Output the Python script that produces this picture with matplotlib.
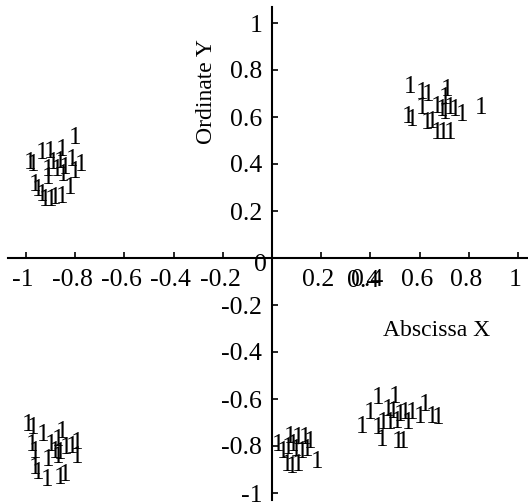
import matplotlib
matplotlib.use("Agg")
import matplotlib.pyplot as plt
import matplotlib.transforms as mtransforms

plt.rcParams["font.family"] = ["Liberation Serif", "DejaVu Serif"]
plt.rcParams["axes.unicode_minus"] = False

# point clusters, each point is drawn as the glyph "1"
c1_x = [-0.801, -0.936, -0.902, -0.855, -0.984, -0.972, -0.890, -0.862, -0.814, -0.774,
        -0.911, -0.875, -0.841, -0.801, -0.850, -0.963, -0.951, -0.911, -0.821, -0.923,
        -0.896, -0.882, -0.855, -0.936]
c1_y = [0.511, 0.447, 0.451, 0.460, 0.404, 0.396, 0.404, 0.409, 0.417, 0.396,
        0.374, 0.374, 0.383, 0.366, 0.353, 0.311, 0.289, 0.340, 0.298, 0.247,
        0.247, 0.255, 0.260, 0.268]
c2_x = [0.561, 0.609, 0.634, 0.710, 0.703, 0.852, 0.609, 0.670, 0.690, 0.724,
        0.744, 0.771, 0.553, 0.568, 0.629, 0.649, 0.670, 0.695, 0.724, 0.703]
c2_y = [0.729, 0.702, 0.694, 0.715, 0.681, 0.638, 0.638, 0.644, 0.630, 0.638,
        0.630, 0.609, 0.601, 0.587, 0.574, 0.580, 0.532, 0.532, 0.532, 0.617]
c3_x = [-0.991, -0.972, -0.931, -0.855, -0.870, -0.977, -0.963, -0.896, -0.882, -0.862,
        -0.835, -0.814, -0.794, -0.794, -0.911, -0.963, -0.951, -0.916, -0.862, -0.841,
        -0.870]
c3_y = [-0.711, -0.723, -0.753, -0.739, -0.774, -0.796, -0.824, -0.796, -0.824, -0.830,
        -0.809, -0.803, -0.787, -0.846, -0.860, -0.894, -0.915, -0.945, -0.936, -0.923,
        -0.846]
c4_x = [0.026, 0.073, 0.085, 0.106, 0.134, 0.154, 0.045, 0.065, 0.100, 0.121,
        0.141, 0.060, 0.080, 0.106, 0.182]
c4_y = [-0.796, -0.760, -0.796, -0.766, -0.766, -0.782, -0.824, -0.809, -0.817, -0.824,
        -0.817, -0.881, -0.888, -0.881, -0.867]
c5_x = [0.431, 0.500, 0.622, 0.398, 0.472, 0.492, 0.520, 0.541, 0.568, 0.602,
        0.649, 0.675, 0.365, 0.431, 0.451, 0.480, 0.507, 0.553, 0.446, 0.512,
        0.533]
c5_y = [-0.596, -0.590, -0.626, -0.660, -0.647, -0.654, -0.668, -0.660, -0.660, -0.675,
        -0.675, -0.681, -0.718, -0.723, -0.702, -0.702, -0.696, -0.702, -0.774, -0.782,
        -0.782]

x_ticks = [-1, -0.8, -0.6, -0.4, -0.2, 0.2, 0.4, 0.6, 0.8, 1]
y_ticks = [-1, -0.8, -0.6, -0.4, -0.2, 0.2, 0.4, 0.6, 0.8, 1]

FS = 17       # axis labels
TICK_FS = 18.5
MARK_FS = 18

fig = plt.figure(figsize=(5.28, 5.04), dpi=100)
ax = fig.add_axes([0, 0, 1, 1])
ax.set_xlim(-272 / 246, 256 / 246)
ax.set_ylim((258 - 504) / 235, 258 / 235)

xs = c1_x + c2_x + c3_x + c4_x + c5_x
ys = c1_y + c2_y + c3_y + c4_y + c5_y
for x, y in zip(xs, ys):
    ax.text(x, y, "1", fontsize=MARK_FS, ha="center", va="center")

# axes crossing at the origin
for side in ("top", "right"):
    ax.spines[side].set_visible(False)
ax.spines["left"].set_position(("data", 0))
ax.spines["bottom"].set_position(("data", 0))
ax.spines["left"].set_linewidth(1.5)
ax.spines["bottom"].set_linewidth(1.5)
ax.spines["bottom"].set_bounds(-1.073, 1.05)
ax.spines["left"].set_bounds(-1.03, 1.068)

ax.set_xticks(x_ticks)
ax.set_xticklabels([f"{t:g}" for t in x_ticks])
ax.set_yticks(y_ticks)
ax.set_yticklabels([f"{t:g}" for t in y_ticks])
ax.tick_params(direction="in", length=4, width=1.2, labelsize=TICK_FS)
ax.tick_params(axis="x", pad=8)
ax.tick_params(axis="y", pad=7)

# x tick labels sit a little left of their ticks in the original
shift = mtransforms.ScaledTranslation(-2 / 72, 0, fig.dpi_scale_trans)
for lbl in ax.get_xticklabels():
    lbl.set_transform(lbl.get_transform() + shift)

# origin label and the doubled 0.4 label seen in the original
ax.annotate("0", (0, 0), xytext=(-8, -5), textcoords="offset points",
            fontsize=TICK_FS, ha="center", va="center")
ax.annotate("0.4", (0.4, 0), xytext=(-5, -16.5), textcoords="offset points",
            fontsize=TICK_FS, ha="center", va="center")

ax.set_xlabel("Abscissa X", fontsize=FS)
ax.xaxis.set_label_coords(437 / 528, 1 - 330 / 504)
ax.xaxis.label.set_va("center")
ax.set_ylabel("Ordinate Y", fontsize=FS)
ax.yaxis.set_label_coords(207 / 528, 1 - 92 / 504)
ax.yaxis.label.set_va("center")

fig.savefig("out.png", dpi=100)
